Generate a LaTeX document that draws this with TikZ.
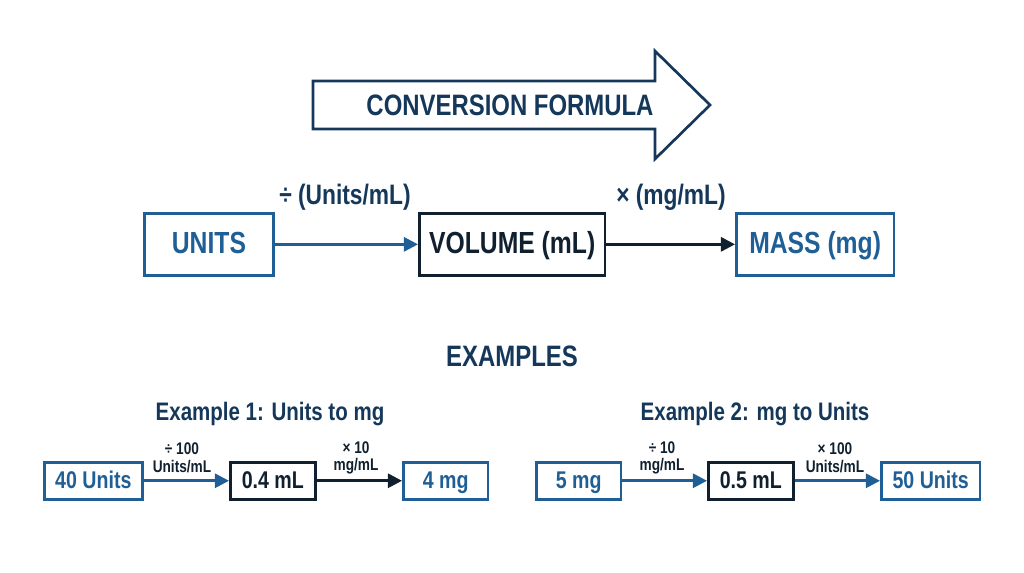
\documentclass[tikz,border=0pt]{standalone}
\usepackage{fontspec}
\setmainfont[FakeStretch=0.81]{Liberation Sans}
\usepackage{xcolor}
\usetikzlibrary{arrows.meta}
\definecolor{boxblue}{HTML}{1F5F96}
\definecolor{navy}{HTML}{14375A}
\definecolor{inkblack}{HTML}{10202E}
\tikzset{
  bluebox/.style={draw=boxblue, text=boxblue, line width=2pt, font=\bfseries\fontsize{21.7}{24}\selectfont, anchor=north west, inner sep=0pt, text height=13.5pt, text depth=0pt},
  blackbox/.style={bluebox, draw=inkblack, text=inkblack},
  smallblue/.style={bluebox, line width=1.9pt, font=\bfseries\fontsize{17.2}{19}\selectfont, text height=11.3pt},
  smallblack/.style={smallblue, draw=inkblack, text=inkblack},
  bluearrow/.style={-{Triangle[length=10pt,width=10pt]}, draw=boxblue, line width=1.9pt},
  blackarrow/.style={bluearrow, draw=inkblack},
  heading/.style={text=navy, font=\bfseries\fontsize{21}{24}\selectfont},
  subheading/.style={text=navy, font=\bfseries\fontsize{18}{20}\selectfont},
  biglabel/.style={text=navy, font=\bfseries\fontsize{20}{22}\selectfont},
  smalllabel/.style={text=inkblack, align=center, font=\bfseries\fontsize{12}{12.6}\selectfont}
}
\begin{document}
\begin{tikzpicture}[x=0.025cm,y=-0.025cm]
  \useasboundingbox (0,0) rectangle (1024,572);

  % the big arrow
  \draw[navy, line width=1.9pt, line join=miter] (313,81) -- (655,81) -- (655,51) -- (710,105) -- (655,159) -- (655,129) -- (313,129) -- cycle;
  \node[heading] (formula) at (510,105) {CONVERSION FORMULA};

  % the main row
  \node[bluebox, minimum width=91.8pt, minimum height=44pt] (units) at (143,212) {UNITS};
  \node[blackbox, minimum width=132pt, minimum height=44pt] (volume) at (418,212) {VOLUME (mL)};
  \node[bluebox, minimum width=112pt, minimum height=44pt] (mass) at (735,212) {MASS (mg)};
  \draw[bluearrow] (units) -- (volume);
  \draw[blackarrow] (volume) -- (mass);
  \node[biglabel] (divlabel) at (345,197) {÷ (Units/mL)};
  \node[biglabel] (mullabel) at (671,197) {× (mg/mL)};

  \node[heading] (examples) at (512,356) {EXAMPLES};

  % example 1
  \node[subheading] (firsttitle) at (270,414) {Example 1: Units to mg};
  \node[smallblue, minimum width=69.7pt, minimum height=26.2pt] (a1) at (43,461) {40 Units};
  \node[smallblack, minimum width=60.4pt, minimum height=26.2pt] (a2) at (229,461) {0.4 mL};
  \node[smallblue, minimum width=60.2pt, minimum height=26.2pt] (a3) at (402,461) {4 mg};
  \draw[bluearrow] (a1) -- (a2);
  \draw[blackarrow] (a2) -- (a3);
  \node[smalllabel] (a1lab) at (182,458) {÷ 100\\Units/mL};
  \node[smalllabel] (a2lab) at (356,458) {× 10\\mg/mL};

  % example 2
  \node[subheading] (secondtitle) at (755,414) {Example 2: mg to Units};
  \node[smallblue, minimum width=60.2pt, minimum height=26.2pt] (b1) at (535,461) {5 mg};
  \node[smallblack, minimum width=60.4pt, minimum height=26.2pt] (b2) at (707,461) {0.5 mL};
  \node[smallblue, minimum width=70.2pt, minimum height=26.2pt] (b3) at (880,461) {50 Units};
  \draw[bluearrow] (b1) -- (b2);
  \draw[bluearrow] (b2) -- (b3);
  \node[smalllabel] (b1lab) at (662,458) {÷ 10\\mg/mL};
  \node[smalllabel] (b2lab) at (835,458) {× 100\\Units/mL};
\end{tikzpicture}
\end{document}
